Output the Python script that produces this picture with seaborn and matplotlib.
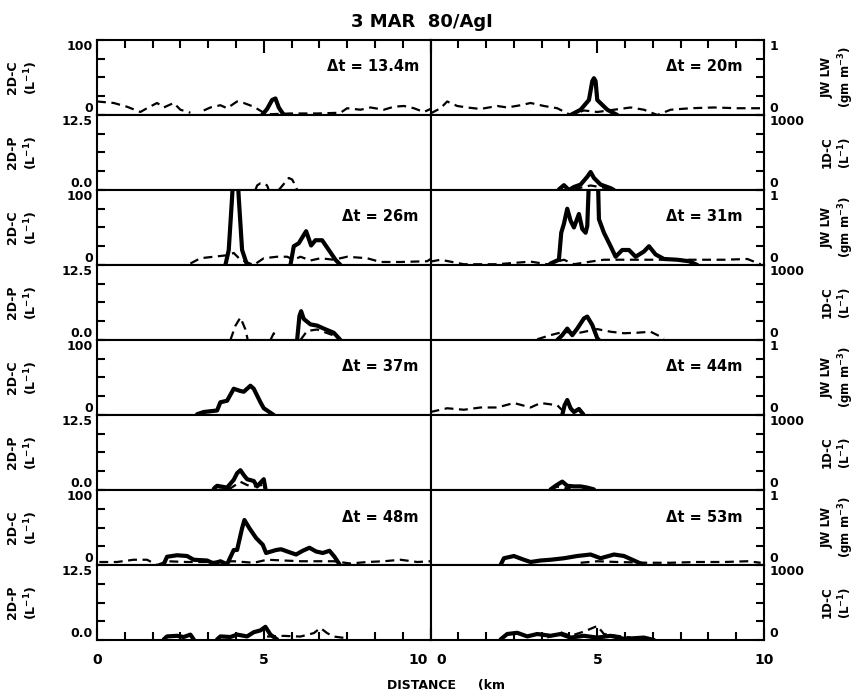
import numpy as np
import pandas as pd
import matplotlib
matplotlib.use("Agg")
import matplotlib.pyplot as plt
import matplotlib.transforms as mtransforms
import seaborn as sns

nan = np.nan

# ---------------- data (distance km, value) ----------------
# order of passes: left column top->bottom, then right column top->bottom
pass_labels = ["Δt = 13.4m", "Δt = 26m", "Δt = 37m", "Δt = 48m",
               "Δt = 20m", "Δt = 31m", "Δt = 44m", "Δt = 53m"]

# Δt = 13.4 m
km_2dc_13 = [4.95, 5.1, 5.25, 5.35, 5.45, 5.6]
val_2dc_13 = [0, 8, 20, 22, 10, 0]
km_jw_13 = [0.0, 0.5, 0.9, 1.3, 1.5, 1.8, 2.0, 2.3, 2.5, 2.8, nan,
            3.2, 3.4, 3.7, 3.9, 4.2, 4.4, 4.7, 5.0, 5.2, 5.8, 6.6, 7.3,
            7.5, 7.9, 8.2, 8.6, 8.9, 9.2, 9.5, 9.8, 10.0]
val_jw_13 = [0.18, 0.16, 0.11, 0.04, 0.09, 0.16, 0.10, 0.16, 0.07, 0.03, nan,
             0.06, 0.10, 0.13, 0.09, 0.18, 0.16, 0.11, 0.03, 0.01, 0.02, 0.02, 0.03,
             0.09, 0.07, 0.10, 0.07, 0.11, 0.12, 0.09, 0.04, 0.08]
km_2dp_13 = []
val_2dp_13 = []
km_1dc_13 = [4.75, 4.8, 4.9, 5.0, 5.1, 5.15, nan, 5.45, 5.6, 5.75, 5.85, 5.95, 6.0]
val_1dc_13 = [0, 60, 90, 90, 60, 0, nan, 0, 80, 160, 140, 60, 0]

# Δt = 26 m
km_2dc_26 = [3.85, 3.95, 4.05, 4.1, 4.2, 4.25, 4.35, 4.5, nan,
             5.8, 5.9, 6.05, 6.2, 6.27, 6.42, 6.55, 6.75, 6.95, 7.15, 7.3]
val_2dc_26 = [0, 20, 90, 130, 130, 90, 20, 0, nan,
              0, 25, 29, 40, 45, 26, 33, 33, 20, 7, 0]
km_jw_26 = [2.8, 3.1, 3.5, 3.9, 4.1, 4.3, 4.7, 5.0, 5.4, 5.7, 5.9, 6.1, 6.4,
            6.7, 7.1, 7.5, 8.1, 8.5, 9.1, 9.9, 10.0]
val_jw_26 = [0.02, 0.09, 0.11, 0.13, 0.16, 0.07, 0.0, 0.09, 0.11, 0.11, 0.07, 0.11, 0.06,
             0.09, 0.07, 0.11, 0.09, 0.04, 0.04, 0.05, 0.08]
km_2dp_26 = [6.0, 6.07, 6.12, 6.2, 6.4, 6.6, 6.8, 7.1, 7.3]
val_2dp_26 = [0, 4.0, 4.8, 3.5, 2.6, 2.4, 1.9, 1.2, 0]
km_1dc_26 = [4.0, 4.15, 4.3, 4.45, 4.52, nan, 5.2, 5.3, 5.4, nan,
             6.1, 6.3, 6.6, 7.1, 7.3]
val_1dc_26 = [0, 190, 300, 140, 0, nan, 0, 90, 0, nan,
              0, 120, 140, 60, 0]

# Δt = 37 m
km_2dc_37 = [3.0, 3.2, 3.6, 3.7, 3.9, 4.1, 4.3, 4.4, 4.6, 4.7, 4.8, 4.9, 5.0, 5.2, 5.3]
val_2dc_37 = [1, 4, 6, 17, 19, 35, 32, 31, 39, 35, 26, 17, 9, 3, 0]
km_jw_37 = []
val_jw_37 = []
km_2dp_37 = [3.5, 3.6, 3.9, 4.1, 4.2, 4.3, 4.4, 4.5, 4.7, 4.8, 5.0, 5.05]
val_2dp_37 = [0.2, 0.7, 0.4, 1.7, 2.8, 3.3, 2.5, 1.8, 1.5, 0.6, 1.8, 0.2]
km_1dc_37 = [3.5, 4.0, 4.3, 4.5, 4.7, 4.9, 5.0]
val_1dc_37 = [44, 22, 110, 66, 44, 75, 10]

# Δt = 48 m
km_2dc_48 = [2.0, 2.1, 2.4, 2.7, 2.9, 3.3, 3.5, 3.7, 3.9, 4.1, 4.2, 4.35, 4.42,
             4.57, 4.77, 4.97, 5.07, 5.37, 5.52, 5.77, 5.97, 6.17, 6.37, 6.57,
             6.77, 6.97, 7.12, 7.27]
val_2dc_48 = [1, 11, 13, 12, 7, 6, 2, 5, 1, 20, 20, 49, 60,
              49, 36, 27, 16, 20, 21, 17, 14, 19, 23, 18,
              16, 19, 11, 1]
km_jw_48 = [0.07, 0.6, 1.1, 1.5, 1.8, 2.1, 2.7, 3.3, 4.1, 4.7, 5.1, 6.1, 7.1,
            7.6, 8.1, 8.6, 9.1, 9.6, 10.0]
val_jw_48 = [0.04, 0.04, 0.07, 0.07, 0.0, 0.05, 0.04, 0.04, 0.05, 0.03, 0.07, 0.05, 0.05,
             0.02, 0.04, 0.05, 0.07, 0.04, 0.05]
km_2dp_48 = [2.0, 2.1, 2.4, 2.6, 2.8, 2.9, nan, 3.6, 3.7, 4.0, 4.2, 4.5, 4.7,
             4.9, 5.05, 5.2, 5.4]
val_2dp_48 = [0.1, 0.6, 0.7, 0.5, 0.9, 0.1, nan, 0.1, 0.6, 0.5, 0.9, 0.6, 1.3,
              1.6, 2.2, 0.9, 0.1]
km_1dc_48 = [5.1, 5.6, 6.1, 6.5, 6.7, 6.9, 7.1, 7.5]
val_1dc_48 = [46, 55, 46, 92, 160, 92, 46, 23]

# Δt = 20 m
km_2dc_20 = [4.2, 4.5, 4.75, 4.85, 4.9, 4.95, 5.0, 5.3, 5.6]
val_2dc_20 = [0, 7, 20, 45, 49, 45, 20, 7, 0]
km_jw_20 = [0.0, 0.3, 0.5, 0.8, 1.1, 1.5, 2.0, 2.3, 2.7, 3.0, 3.4, 3.8, 4.2,
            4.6, 5.0, 5.5, 6.0, 6.4, 6.8, 7.2, 7.8, 8.5, 9.2, 9.9]
val_jw_20 = [0.02, 0.09, 0.18, 0.12, 0.10, 0.08, 0.12, 0.10, 0.13, 0.16, 0.12, 0.09, 0.0,
             0.06, 0.04, 0.07, 0.10, 0.07, 0.0, 0.07, 0.09, 0.10, 0.09, 0.09]
km_2dp_20 = [3.85, 4.0, 4.15, 4.3, 4.5, 4.7, 4.8, 4.9, 5.1, 5.4, 5.5]
val_2dp_20 = [0.1, 0.8, 0.0, 0.5, 0.9, 2.2, 3.0, 2.0, 0.9, 0.3, 0]
km_1dc_20 = [4.3, 4.4, 4.8, 5.2, 5.4]
val_1dc_20 = [0, 20, 60, 30, 0]

# Δt = 31 m
km_2dc_31 = [3.6, 3.85, 3.92, 4.0, 4.1, 4.2, 4.3, 4.45, 4.55, 4.65, 4.7, 4.78,
             5.0, 5.05, 5.2, 5.4, 5.55, 5.75, 5.95, 6.15, 6.4, 6.55, 6.75,
             7.0, 7.4, 7.75, 8.0]
val_2dc_31 = [2, 7, 43, 55, 75, 59, 50, 68, 48, 43, 52, 150,
              150, 61, 43, 25, 11, 20, 20, 11, 18, 25, 14,
              8, 7, 5, 0]
km_jw_31 = [0.0, 0.3, 1.0, 2.0, 3.0, 3.5, 4.0, 4.3, 4.8, 5.2, 6.0, 7.0, 8.0,
            8.8, 9.5, 9.9]
val_jw_31 = [0.045, 0.07, 0.01, 0.01, 0.045, 0.01, 0.07, 0.01, 0.045, 0.07, 0.07, 0.07, 0.07,
             0.07, 0.08, 0.01]
km_2dp_31 = [3.8, 3.95, 4.1, 4.25, 4.4, 4.6, 4.7, 4.85, 5.0, 5.05]
val_2dp_31 = [0, 0.8, 1.9, 0.8, 1.9, 3.6, 3.9, 2.5, 0.3, 0]
km_1dc_31 = [3.2, 3.6, 4.0, 4.4, 5.0, 5.4, 5.8, 6.2, 6.6, 7.0]
val_1dc_31 = [10, 65, 110, 90, 145, 110, 90, 97, 110, 22]

# Δt = 44 m
km_2dc_44 = [3.95, 4.02, 4.1, 4.2, 4.3, 4.45, 4.58]
val_2dc_44 = [0, 13, 20, 9, 4, 8, 1]
km_jw_44 = [0.0, 0.5, 1.0, 1.5, 2.0, 2.5, 3.0, 3.3, 3.8, 4.0]
val_jw_44 = [0.04, 0.09, 0.07, 0.10, 0.10, 0.16, 0.10, 0.16, 0.13, 0.04]
km_2dp_44 = [3.6, 3.75, 3.95, 4.1, 4.3, 4.5, 4.7, 4.9]
val_2dp_44 = [0.1, 0.7, 1.4, 0.7, 0.6, 0.6, 0.4, 0.1]
km_1dc_44 = [3.6, 3.8, 4.0, 4.2]
val_1dc_44 = [10, 44, 30, 10]

# Δt = 53 m
km_2dc_53 = [2.1, 2.2, 2.5, 2.8, 3.0, 3.3, 3.6, 4.0, 4.4, 4.8, 5.1, 5.5, 5.8, 6.1, 6.4]
val_2dc_53 = [0, 9, 12, 7, 4, 6, 7, 9, 12, 14, 9, 14, 12, 6, 0]
km_jw_53 = [4.5, 5.0, 5.6, 6.5, 7.2, 8.0, 8.8, 9.5, 9.9]
val_jw_53 = [0.03, 0.05, 0.04, 0.03, 0.03, 0.04, 0.04, 0.05, 0.03]
km_2dp_53 = [2.1, 2.3, 2.6, 2.9, 3.2, 3.6, 3.9, 4.2, 4.6, 5.0, 5.4, 5.8, 6.4, 6.7]
val_2dp_53 = [0.1, 1.0, 1.2, 0.6, 1.0, 0.7, 1.0, 0.4, 0.7, 0.4, 0.7, 0.2, 0.4, 0]
km_1dc_53 = [3.5, 3.9, 4.2, 4.6, 5.0, 5.2, 5.6, 6.0]
val_1dc_53 = [33, 103, 56, 112, 187, 80, 56, 33]

passes = [
    (km_2dc_13, val_2dc_13, km_jw_13, val_jw_13, km_2dp_13, val_2dp_13, km_1dc_13, val_1dc_13),
    (km_2dc_26, val_2dc_26, km_jw_26, val_jw_26, km_2dp_26, val_2dp_26, km_1dc_26, val_1dc_26),
    (km_2dc_37, val_2dc_37, km_jw_37, val_jw_37, km_2dp_37, val_2dp_37, km_1dc_37, val_1dc_37),
    (km_2dc_48, val_2dc_48, km_jw_48, val_jw_48, km_2dp_48, val_2dp_48, km_1dc_48, val_1dc_48),
    (km_2dc_20, val_2dc_20, km_jw_20, val_jw_20, km_2dp_20, val_2dp_20, km_1dc_20, val_1dc_20),
    (km_2dc_31, val_2dc_31, km_jw_31, val_jw_31, km_2dp_31, val_2dp_31, km_1dc_31, val_1dc_31),
    (km_2dc_44, val_2dc_44, km_jw_44, val_jw_44, km_2dp_44, val_2dp_44, km_1dc_44, val_1dc_44),
    (km_2dc_53, val_2dc_53, km_jw_53, val_jw_53, km_2dp_53, val_2dp_53, km_1dc_53, val_1dc_53),
]

# scales
ylim_2dc, ylim_2dp = 100, 12.5
ylim_jw, ylim_1dc = 1, 1000
left_labels = ["2D-C\n(L$^{-1}$)", "2D-P\n(L$^{-1}$)"]
right_labels = ["JW LW\n(gm m$^{-3}$)", "1D-C\n(L$^{-1}$)"]
xtick_major = [0, 5, 10]

# ---------------- style ----------------
sns.set_theme(style="white", rc={
    "axes.edgecolor": "black", "axes.linewidth": 1.5,
    "xtick.color": "black", "ytick.color": "black",
    "text.color": "black", "axes.labelcolor": "black",
})
plt.rcParams["font.family"] = ["DejaVu Sans"]
plt.rcParams["font.weight"] = "bold"
plt.rcParams["axes.labelweight"] = "bold"

fig, axes = plt.subplots(8, 2, figsize=(8.6, 6.94), dpi=100,
                         gridspec_kw=dict(hspace=0, wspace=0))
fig.subplots_adjust(left=0.1128, right=0.8884, top=0.9424, bottom=0.0778)

TICKFS = 9


def draw(ax, xs, ys, solid):
    if len(xs) == 0:
        return
    df = pd.DataFrame({"km": xs, "v": ys})
    df["seg"] = df["v"].isna().cumsum()
    df = df.dropna()
    if solid:
        sns.lineplot(data=df, x="km", y="v", units="seg", estimator=None, sort=False,
                     ax=ax, color="black", lw=3.0, legend=False,
                     solid_capstyle="round", solid_joinstyle="round")
    else:
        sns.lineplot(data=df, x="km", y="v", units="seg", estimator=None, sort=False,
                     ax=ax, color="black", lw=1.6, legend=False,
                     linestyle=(0, (4, 2.5)))
    ax.set_xlabel("")
    ax.set_ylabel("")


def set_y(ax, top, side, fmt):
    ax.set_ylim(0, top)
    ax.set_yticks([0, top])
    ax.set_yticklabels(fmt)
    ax.set_yticks([top * 0.25, top * 0.5, top * 0.75], minor=True)
    if side == "left":
        ax.tick_params(axis="y", which="both", direction="in", left=True, right=False,
                       labelleft=True, labelright=False, labelsize=TICKFS, pad=3)
    else:
        ax.tick_params(axis="y", which="both", direction="in", left=False, right=True,
                       labelleft=False, labelright=True, labelsize=TICKFS, pad=4)
    ax.tick_params(axis="y", which="both", length=6, width=1.5)
    tl = ax.get_yticklabels()
    tl[0].set_va("bottom")
    tl[1].set_va("top")
    for t in tl:
        t.set_fontweight("bold")


for k, data in enumerate(passes):
    col = k // 4
    r = k % 4
    ax_up = axes[2 * r, col]
    ax_lo = axes[2 * r + 1, col]
    for ax in (ax_up, ax_lo):
        ax.set_xlim(0, 10)
    tw_up = ax_up.twinx()
    tw_lo = ax_lo.twinx()
    k2dc, v2dc, kjw, vjw, k2dp, v2dp, k1dc, v1dc = data
    draw(tw_up, kjw, vjw, solid=False)
    draw(ax_up, k2dc, v2dc, solid=True)
    draw(tw_lo, k1dc, v1dc, solid=False)
    draw(ax_lo, k2dp, v2dp, solid=True)

    ax_up.set_ylim(0, ylim_2dc)
    ax_lo.set_ylim(0, ylim_2dp)
    tw_up.set_ylim(0, ylim_jw)
    tw_lo.set_ylim(0, ylim_1dc)

    if col == 0:
        set_y(ax_up, ylim_2dc, "left", ["0", "100"])
        set_y(ax_lo, ylim_2dp, "left", ["0.0", "12.5"])
        ax_up.set_ylabel(left_labels[0], fontsize=9, fontweight="bold", linespacing=1.3)
        ax_lo.set_ylabel(left_labels[1], fontsize=9, fontweight="bold", linespacing=1.3)
        ax_up.yaxis.set_label_coords(-0.17, 0.5)
        ax_lo.yaxis.set_label_coords(-0.17, 0.5)
        for tw in (tw_up, tw_lo):
            tw.set_yticks([])
            tw.tick_params(right=False, labelright=False)
    else:
        for ax in (ax_up, ax_lo):
            ax.set_yticks([])
            ax.tick_params(left=False, labelleft=False)
        set_y(tw_up, ylim_jw, "right", ["0", "1"])
        set_y(tw_lo, ylim_1dc, "right", ["0", "1000"])
        tw_up.set_ylabel(right_labels[0], fontsize=8.5, fontweight="bold", linespacing=1.2)
        tw_lo.set_ylabel(right_labels[1], fontsize=8.5, fontweight="bold", linespacing=1.2)
        tw_up.yaxis.set_label_coords(1.17, 0.5)
        tw_lo.yaxis.set_label_coords(1.17, 0.5)

    for tw in (tw_up, tw_lo):
        for s in tw.spines.values():
            s.set_visible(False)

    ax_up.text(0.965 if col == 0 else 0.935, 0.64, pass_labels[k],
               transform=ax_up.transAxes, ha="right", va="center",
               fontsize=10.5, fontweight="bold")

# x ticks
minor_x = [i * 10 / 12 for i in range(13)]
for col in range(2):
    for r in range(8):
        ax = axes[r, col]
        ax.set_xticks(xtick_major)
        ax.set_xticks(minor_x, minor=True)
        ax.tick_params(axis="x", which="both", direction="in",
                       bottom=False, top=False, labelbottom=False, labeltop=False)
    top_ax = axes[0, col]
    top_ax.tick_params(axis="x", which="both", top=True)
    bot_ax = axes[7, col]
    bot_ax.tick_params(axis="x", which="both", bottom=True, labelbottom=True,
                       labelsize=TICKFS + 1, pad=9)
    for ax in (top_ax, bot_ax):
        ax.tick_params(axis="x", which="major", length=9, width=1.5)
        ax.tick_params(axis="x", which="minor", length=6, width=1.5)
    bot_ax.set_xticklabels(["0", "5", "10"])
    tl = bot_ax.get_xticklabels()
    for t in tl:
        t.set_fontweight("bold")
    if col == 0:
        tl[2].set_ha("right")
        tl[2].set_transform(tl[2].get_transform() +
                            mtransforms.ScaledTranslation(-2 / 72, 0, fig.dpi_scale_trans))
    else:
        tl[0].set_ha("left")
        tl[0].set_transform(tl[0].get_transform() +
                            mtransforms.ScaledTranslation(4 / 72, 0, fig.dpi_scale_trans))

fig.text(0.49, 0.968, "3 MAR  80/AgI", ha="center", va="center",
         fontsize=13, fontweight="bold")
fig.text(446 / 860, 1 - 686 / 694, "DISTANCE     (km", ha="center", va="center",
         fontsize=9, fontweight="bold")

fig.savefig("out.png", dpi=100)
